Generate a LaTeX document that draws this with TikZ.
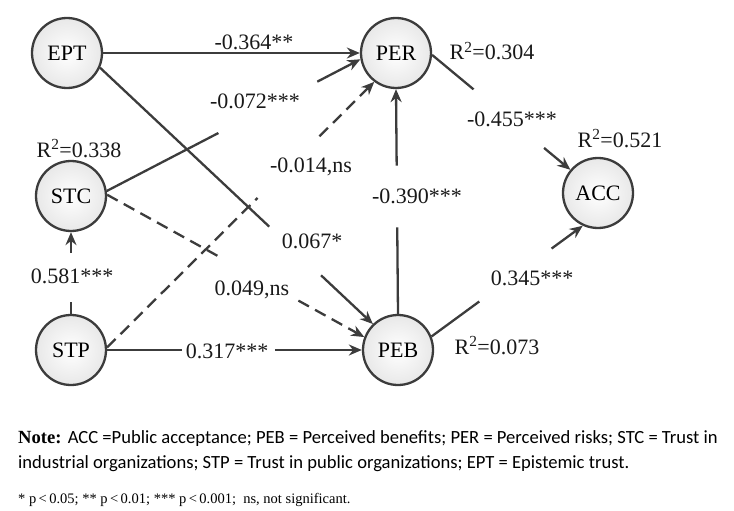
\documentclass[tikz,border=0pt]{standalone}
\usepackage{fontspec}
\setmainfont{Liberation Serif}
\newfontfamily\notefont{Carlito}
\usetikzlibrary{arrows.meta,calc}
\definecolor{linec}{HTML}{3C3C3C}
\begin{document}
\begin{tikzpicture}[x=1pt,y=-1pt,
  lv/.style={circle,draw=linec,line width=2.3pt,minimum size=70pt,inner sep=0pt,
    shading=radial,inner color=white,outer color=gray!18,
    font=\fontsize{22}{24}\selectfont},
  conn/.style={draw=linec,line width=2.3pt},
  arr/.style={-{Stealth[length=13pt,width=11pt]}},
  dsh/.style={dash pattern=on 12pt off 7pt},
  lab/.style={anchor=base,font=\fontsize{22}{24}\selectfont,inner sep=0pt,text=black!90}
]
\useasboundingbox (0,0) rectangle (734,511);

% latent variables
\node[lv] (EPT) at (67,53) {EPT};
\node[lv] (PER) at (396,53) {PER};
\node[lv] (STC) at (71,196) {STC};
\node[lv] (STP) at (71,350) {STP};
\node[lv] (PEB) at (398,350) {PEB};
\node[lv] (ACC) at (598,193) {ACC};

% EPT -> PER
\draw[conn,arr] (EPT.0) -- (PER.180);
\node[lab] (l1) at (254,50) {-0.364**};

% STC -> PER
\draw[conn] (STC.8) -- ($(STC.8)!0.44!(PER.190)$);
\draw[conn,arr] ($(STC.8)!0.83!(PER.190)$) -- (PER.190);
\node[lab] (l2) at (255,108) {-0.072***};

% STP -> PER (dashed)
\draw[conn,dsh] (STP.4) -- ($(STP.4)!0.563!(PER.233)$);
\draw[conn,dsh,arr] ($(STP.4)!0.795!(PER.233)$) -- (PER.233);
\node[lab] (l3) at (311,172) {-0.014,ns};

% EPT -> PEB
\draw[conn] (EPT.-24) -- ($(EPT.-24)!0.62!(PEB.134)$);
\draw[conn,arr] ($(EPT.-24)!0.81!(PEB.134)$) -- (PEB.134);
\node[lab] (l4) at (312,248) {0.067*};

% STC -> PEB (dashed)
\draw[conn,dsh] (STC.2) -- ($(STC.2)!0.431!(PEB.159)$);
\draw[conn,dsh,arr] ($(STC.2)!0.744!(PEB.159)$) -- (PEB.159);
\node[lab] (l5) at (252,295) {0.049,ns};

% STP -> PEB
\draw[conn] (STP.0) -- ($(STP.0)!0.295!(PEB.180)$);
\draw[conn,arr] ($(STP.0)!0.659!(PEB.180)$) -- (PEB.180);
\node[lab] (l6) at (227,358) {0.317***};

% STP -> STC
\draw[conn] (STP.90) -- ($(STP.90)!0.15!(STC.270)$);
\draw[conn,arr] ($(STP.90)!0.744!(STC.270)$) -- (STC.270);
\node[lab] (l7) at (72,283) {0.581***};

% PEB -> PER
\draw[conn] (PEB.90) -- ($(PEB.90)!0.385!(PER.270)$);
\draw[conn,arr] ($(PEB.90)!0.66!(PER.270)$) -- (PER.270);
\node[lab] (l8) at (417,203) {-0.390***};

% PER -> ACC
\draw[conn] (PER.-3) -- ($(PER.-3)!0.3!(ACC.140)$);
\draw[conn,arr] ($(PER.-3)!0.81!(ACC.140)$) -- (ACC.140);
\node[lab] (l9) at (512,126) {-0.455***};

% PEB -> ACC
\draw[conn] (PEB.22) -- ($(PEB.22)!0.316!(ACC.245)$);
\draw[conn,arr] ($(PEB.22)!0.794!(ACC.245)$) -- (ACC.245);
\node[lab] (l10) at (532,285) {0.345***};

% R squared
\node[lab] (r1) at (492,60) {R\textsuperscript{2}=0.304};
\node[lab] (r2) at (620,147) {R\textsuperscript{2}=0.521};
\node[lab] (r3) at (79,157) {R\textsuperscript{2}=0.338};
\node[lab] (r4) at (497,354) {R\textsuperscript{2}=0.073};

% notes
\node[anchor=base west,inner sep=0pt] (n1) at (18,443)
  {\fontsize{18.6}{20}\selectfont\textbf{Note:} {\notefont ACC =Public acceptance; PEB = Perceived benefits; PER = Perceived risks; STC = Trust in}};
\node[anchor=base west,inner sep=0pt] (n2) at (18,468)
  {\fontsize{18.6}{20}\selectfont\notefont industrial organizations; STP = Trust in public organizations; EPT = Epistemic trust.};
\node[anchor=base west,inner sep=0pt] (n3) at (18,503)
  {\fontsize{14.5}{16}\selectfont * p\,<\,0.05; ** p\,<\,0.01; *** p\,<\,0.001;\ \ ns, not significant.};
\end{tikzpicture}
\end{document}
